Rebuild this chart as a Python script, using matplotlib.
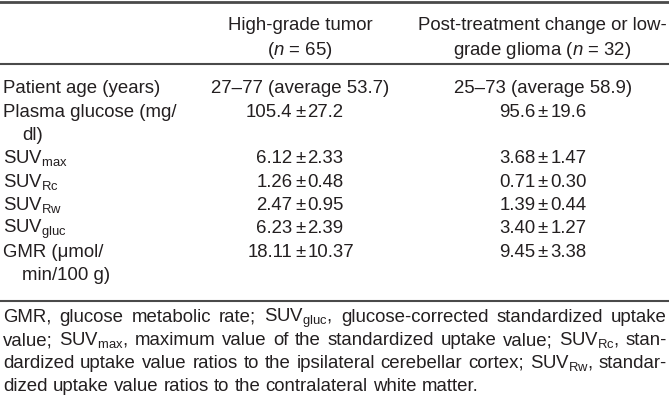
import matplotlib
matplotlib.use("Agg")
import matplotlib.pyplot as plt

plt.rcParams["font.family"] = ["Liberation Sans", "DejaVu Sans"]
plt.rcParams["mathtext.fontset"] = "custom"
plt.rcParams["mathtext.rm"] = "Liberation Sans"
plt.rcParams["mathtext.it"] = "Liberation Sans:italic"

# table content
col_headers = [
    ["High-grade tumor", "($\\mathit{n}$ = 65)"],
    ["Post-treatment change or low-", "grade glioma ($\\mathit{n}$ = 32)"],
]
row_labels = [
    ["Patient age (years)"],
    ["Plasma glucose (mg/", "dl)"],
    ["SUV$_\\mathregular{max}$"],
    ["SUV$_\\mathregular{Rc}$"],
    ["SUV$_\\mathregular{Rw}$"],
    ["SUV$_\\mathregular{gluc}$"],
    ["GMR (\u03bcmol/", "min/100 g)"],
]
age_high = "27\u201377 (average 53.7)"
age_low = "25\u201373 (average 58.9)"
high_mean = ["105.4", "6.12", "1.26", "2.47", "6.23", "18.11"]
high_sd = ["27.2", "2.33", "0.48", "0.95", "2.39", "10.37"]
low_mean = ["95.6", "3.68", "0.71", "1.39", "3.40", "9.45"]
low_sd = ["19.6", "1.47", "0.30", "0.44", "1.27", "3.38"]

footnote = [
    "GMR, glucose metabolic rate; SUV$_\\mathregular{gluc}$, glucose-corrected standardized uptake",
    "value; SUV$_\\mathregular{max}$, maximum value of the standardized uptake value; SUV$_\\mathregular{Rc}$, stan-",
    "dardized uptake value ratios to the ipsilateral cerebellar cortex; SUV$_\\mathregular{Rw}$, standar-",
    "dized uptake value ratios to the contralateral white matter.",
]

W, H = 669, 403
fig = plt.figure(figsize=(W / 100, H / 100), dpi=100)
ax = fig.add_axes([0, 0, 1, 1])
ax.set_xlim(0, W)
ax.set_ylim(H, 0)
ax.axis("off")

txt = "#231f20"
rule = "#4a4a4a"
fs = 13.4

# rules
ax.plot([0, W], [1.5, 1.5], color=rule, lw=2.0)
ax.plot([0, W], [63.5, 63.5], color=rule, lw=1.5)
ax.plot([0, W], [301, 301], color=rule, lw=1.5)

# headers
col_x = [300, 542]
for cx, lines in zip(col_x, col_headers):
    for yb, s in zip([30.5, 55], lines):
        ax.text(cx, yb, s, ha="center", va="baseline", fontsize=fs, color=txt)

# row labels
row_base = [93, 117, 163, 187, 210, 233, 257]
for yb, lines in zip(row_base, row_labels):
    ax.text(3, yb, lines[0], ha="left", va="baseline", fontsize=fs, color=txt)
    if len(lines) > 1:
        ax.text(22, yb + 23.4, lines[1], ha="left", va="baseline", fontsize=fs, color=txt)

# age row
ax.text(col_x[0], 93, age_high, ha="center", va="baseline", fontsize=fs, color=txt)
ax.text(col_x[1] + 1, 93, age_low, ha="center", va="baseline", fontsize=fs, color=txt)

# mean +/- sd rows, aligned on the plus-minus sign
pm_x = [300, 543]
for i, yb in enumerate(row_base[1:]):
    for px, m, s in [(pm_x[0], high_mean[i], high_sd[i]), (pm_x[1], low_mean[i], low_sd[i])]:
        ax.text(px - 7.5, yb, m, ha="right", va="baseline", fontsize=fs, color=txt)
        ax.text(px, yb, "\u00b1", ha="center", va="baseline", fontsize=fs, color=txt)
        ax.text(px + 7.5, yb, s, ha="left", va="baseline", fontsize=fs, color=txt)

# footnote, justified except last line
fig.canvas.draw()
renderer = fig.canvas.get_renderer()
left, right = 3, 667
foot_base = [322, 345, 368, 391]
for k, (line, yb) in enumerate(zip(footnote, foot_base)):
    words = line.split(" ")
    items = [ax.text(0, yb, w, ha="left", va="baseline", fontsize=fs, color=txt) for w in words]
    widths = [t.get_window_extent(renderer).width for t in items]
    if k < len(footnote) - 1:
        gap = (right - left - sum(widths)) / (len(words) - 1)
    else:
        gap = fs * 100 / 72 * 0.278
    x = left
    for t, w in zip(items, widths):
        t.set_x(x)
        x += w + gap

fig.savefig("out.png", dpi=100, facecolor="white")
